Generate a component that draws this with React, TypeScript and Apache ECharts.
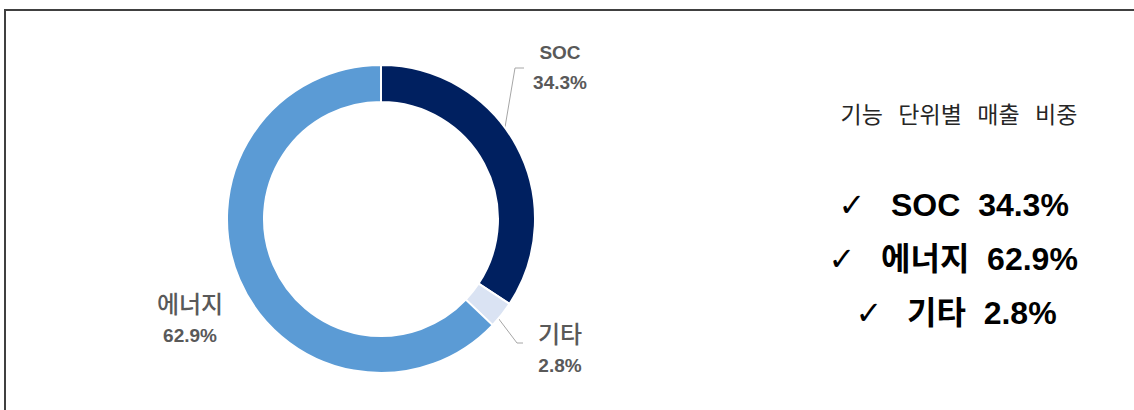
import React, { useEffect, useRef } from "react";
import * as echarts from "echarts";

const categories = ["SOC", "기타", "에너지"];
const values = [34.3, 2.8, 62.9];
const colors = ["#002060", "#dae3f3", "#5b9bd5"];
const summaryOrder = ["SOC", "에너지", "기타"];
const titleText = "기능   단위별   매출   비중";

const CX = 381;
const CY = 219;
const R_IN = 117;
const R_OUT = 154;

// label anchor positions (layout only)
const labelAnchors: Record<string, { x: number; y: number; corner?: number[]; end?: number[] }> = {
  SOC: { x: 560, y: 67, corner: [515, 68], end: [524, 68] },
  기타: { x: 560, y: 347, corner: [517, 343], end: [523, 343] },
  에너지: { x: 190, y: 317 },
};

function midAngle(i: number) {
  const total = values.reduce((a, b) => a + b, 0);
  let c = 0;
  for (let j = 0; j < i; j++) c += values[j];
  return ((c + values[i] / 2) / total) * Math.PI * 2;
}

export default function App() {
  const ref = useRef<HTMLDivElement>(null);
  useEffect(() => {
    document.body.style.margin = "0";
    if (!ref.current) return;
    const chart = echarts.init(ref.current, null, { renderer: "svg" });
    const font = "'Liberation Sans', 'Noto Sans CJK KR', sans-serif";
    const data = categories.map((name, i) => ({
      name,
      value: values[i],
      itemStyle: { color: colors[i] },
      labelLine: { show: !!labelAnchors[name].corner },
    }));
    const rows = summaryOrder.map((name) => {
      const v = values[categories.indexOf(name)];
      return `${name}  ${v.toFixed(1)}%`;
    });
    const rowY = [205, 259, 313];
    const rowCheckX = [852, 842, 869];
    const rowTextX = [891, 881, 907];
    const graphic: any[] = [
      {
        type: "rect",
        shape: { x: 5, y: 10, width: 1140, height: 410 },
        style: { fill: "none", stroke: "#404040", lineWidth: 2 },
        silent: true,
      },
      {
        type: "text",
        x: 959,
        y: 113,
        style: {
          text: titleText,
          fontFamily: "'Noto Sans CJK KR', sans-serif",
          fontSize: 23,
          fill: "#262626",
          align: "center",
          verticalAlign: "middle",
        },
      },
    ];
    rows.forEach((t, i) => {
      graphic.push({
        type: "text",
        x: rowCheckX[i],
        y: rowY[i],
        style: {
          text: "✓",
          fontFamily: "'DejaVu Sans', sans-serif",
          fontSize: 32,
          fontWeight: "bold",
          fill: "#000",
          align: "center",
          verticalAlign: "middle",
        },
      });
      graphic.push({
        type: "text",
        x: rowTextX[i],
        y: rowY[i],
        style: {
          text: t,
          fontFamily: font,
          fontSize: 32,
          fontWeight: "bold",
          fill: "#000",
          align: "left",
          verticalAlign: "middle",
        },
      });
    });

    chart.setOption({
      animation: false,
      graphic,
      series: [
        {
          type: "pie",
          center: [CX, CY],
          radius: [R_IN, R_OUT],
          startAngle: 90,
          clockwise: true,
          avoidLabelOverlap: false,
          itemStyle: { borderColor: "#ffffff", borderWidth: 2 },
          emphasis: { disabled: true },
          label: {
            show: true,
            position: "outside",
            formatter: (p: any) => {
              const key = /^[A-Za-z]+$/.test(p.name) ? "nb" : "n";
              return `{${key}|${p.name}}\n{v|${p.value.toFixed(1)}%}`;
            },
            rich: {
              n: {
                fontFamily: "'Noto Sans CJK KR', sans-serif",
                fontSize: 24,
                fontWeight: 500,
                color: "#595959",
                lineHeight: 36,
                align: "center",
              },
              nb: {
                fontFamily: font,
                fontSize: 19,
                fontWeight: "bold",
                color: "#595959",
                lineHeight: 30,
                align: "center",
              },
              v: {
                fontFamily: font,
                fontSize: 19,
                fontWeight: "bold",
                color: "#595959",
                lineHeight: 30,
                align: "center",
              },
            },
          },
          labelLine: {
            show: true,
            lineStyle: { color: "#a6a6a6", width: 1 },
          },
          labelLayout: (p: any) => {
            const name = categories[p.dataIndex];
            const a = labelAnchors[name];
            const ang = midAngle(p.dataIndex);
            const rm = (R_IN + R_OUT) / 2;
            const start = [CX + rm * Math.sin(ang), CY - rm * Math.cos(ang)];
            const res: any = {
              x: a.x,
              y: a.y,
              align: "center",
              verticalAlign: "middle",
            };
            if (a.corner && a.end) {
              res.labelLinePoints = [start, a.corner, a.end];
            }
            return res;
          },
          data,
        },
      ],
    });
    return () => chart.dispose();
  }, []);
  return <div ref={ref} style={{ width: 1134, height: 410 }} />;
}
